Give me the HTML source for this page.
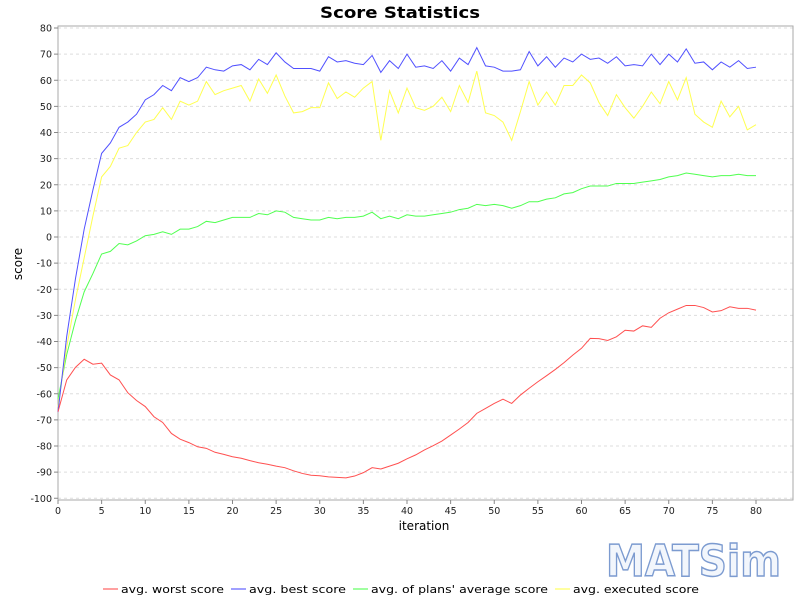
<!DOCTYPE html>
<html><head><meta charset="utf-8"><style>
body{margin:0;background:#fff;font-family:"DejaVu Sans",sans-serif}
svg{display:block}
</style></head><body>
<svg id="chart" width="800" height="600" xmlns="http://www.w3.org/2000/svg" font-family="DejaVu Sans, Liberation Sans, sans-serif">
<rect width="800" height="600" fill="#fff"/>
<text x="400" y="18" text-anchor="middle" font-size="16" font-weight="bold" textLength="160" lengthAdjust="spacingAndGlyphs">Score Statistics</text>
<g id="grid"></g>
<rect x="58" y="26" width="735" height="474" fill="none" stroke="#aaa" stroke-width="1"/>
<g id="yticks"></g>
<g id="xticks"></g>
<g id="series"></g>
<text x="424" y="530" text-anchor="middle" font-size="12">iteration</text>
<text x="22" y="264" text-anchor="middle" font-size="12" transform="rotate(-90 22 264)">score</text>
<text x="606" y="576" font-size="44" font-weight="bold" fill="#f2f6fc" stroke="#7c9bd0" stroke-width="1.5" textLength="175" lengthAdjust="spacingAndGlyphs">MATSim</text>
<g font-size="11">
<g><line x1="103" y1="589" x2="118" y2="589" stroke="#ff4040"/><text x="121" y="593" textLength="103" lengthAdjust="spacingAndGlyphs">avg. worst score</text></g>
<g><line x1="231" y1="589" x2="246" y2="589" stroke="#4040ff"/><text x="249" y="593" textLength="97" lengthAdjust="spacingAndGlyphs">avg. best score</text></g>
<g><line x1="353" y1="589" x2="368" y2="589" stroke="#40ff40"/><text x="371" y="593" textLength="177" lengthAdjust="spacingAndGlyphs">avg. of plans' average score</text></g>
<g><line x1="555" y1="589" x2="570" y2="589" stroke="#ffff40"/><text x="573" y="593" textLength="126" lengthAdjust="spacingAndGlyphs">avg. executed score</text></g>
</g>
</svg>
<script>
const yTickLabels=[80,70,60,50,40,30,20,10,0,-10,-20,-30,-40,-50,-60,-70,-80,-90,-100];
const xTickLabels=[0,5,10,15,20,25,30,35,40,45,50,55,60,65,70,75,80];
const worstScores=[-66.9,-54.7,-49.9,-46.8,-48.7,-48.3,-52.8,-54.7,-59.6,-62.6,-64.9,-68.8,-71,-75.2,-77.4,-78.7,-80.3,-80.9,-82.4,-83.2,-84.1,-84.7,-85.6,-86.4,-87,-87.7,-88.3,-89.5,-90.5,-91.2,-91.4,-91.8,-92,-92.2,-91.5,-90.2,-88.3,-88.8,-87.7,-86.6,-84.9,-83.4,-81.5,-79.9,-78.1,-75.8,-73.5,-71,-67.5,-65.6,-63.7,-62.1,-63.7,-60.5,-57.9,-55.4,-53.1,-50.7,-48.1,-45.2,-42.6,-38.8,-38.9,-39.6,-38.2,-35.7,-36,-34,-34.6,-31.1,-29,-27.6,-26.2,-26.2,-27,-28.7,-28.2,-26.7,-27.3,-27.3,-28];
const bestScores=[-67,-38,-16,3,18,32,36,42,44,47,52.5,54.5,58,56,61,59.5,61,65,64,63.5,65.5,66,64,68,66,70.5,67,64.5,64.5,64.5,63.5,69,67,67.5,66.5,66,69.5,63,67.5,64.5,70,65,65.5,64.5,67.5,63.5,68.5,66,72.5,65.5,65,63.5,63.5,64,71,65.5,69,65,68.5,67,70,68,68.5,66.5,69,65.5,66,65.5,70,66,70,67,72,66.5,67,64,67,65,67.5,64.5,65];
const averageScores=[-62,-45,-32,-21,-14,-6.5,-5.5,-2.5,-3,-1.5,0.5,1,2,1,3,3,4,6,5.5,6.5,7.5,7.5,7.5,9,8.5,10,9.5,7.5,7,6.5,6.5,7.5,7,7.5,7.5,8,9.5,7,8,7,8.5,8,8,8.5,9,9.5,10.5,11,12.5,12,12.5,12,11,12,13.5,13.5,14.5,15,16.5,17,18.5,19.5,19.5,19.5,20.5,20.5,20.5,21,21.5,22,23,23.5,24.5,24,23.5,23,23.5,23.5,24,23.5,23.5];
const executedScores=[-65,-42,-24,-8,8,23,27,34,35,40,44,45,49.5,45,52,50.5,52,59.5,54.5,56,57,58,52,60.5,55,62,54,47.5,48,49.5,49.5,59,53,55.5,53.5,57,59.5,37,56,47.5,57,49.5,48.5,50,53.5,48,58,51.5,63.5,47.5,46.5,44,37,48,59.5,50.5,55.5,50.5,58,58,62,59,51.5,46.5,54.5,49.5,45.5,50,55.5,51,59.5,52.5,61,47,44,42,52,46,50,41,43];

const NS='http://www.w3.org/2000/svg';
const X=v=>58+(v-0)*(756-58)/80;
const Y=v=>237-v*(237-28)/80;
function mk(tag,attrs,parent){const e=document.createElementNS(NS,tag);for(const k in attrs)e.setAttribute(k,attrs[k]);parent.appendChild(e);return e;}
const grid=document.getElementById('grid'),yt=document.getElementById('yticks'),xt=document.getElementById('xticks'),ser=document.getElementById('series');
yTickLabels.forEach(v=>{
  const l=mk('line',{x1:58,x2:793,y1:Y(v),y2:Y(v),stroke:'#ddd','stroke-dasharray':'3,3'},grid);
  
  
  const t=mk('line',{x1:54,x2:58,y1:Y(v),y2:Y(v),stroke:'#888'},yt);
  
  
  const tx=mk('text',{x:52,y:Y(v)+3.5,'text-anchor':'end','font-size':'9.5',fill:'#222'},yt);
  tx.textContent=v;
  
  
});
xTickLabels.forEach(v=>{
  const t=mk('line',{x1:X(v),x2:X(v),y1:500,y2:504,stroke:'#888'},xt);
  
  
  const tx=mk('text',{x:X(v),y:514,'text-anchor':'middle','font-size':'9.5',fill:'#222'},xt);
  tx.textContent=v;
  
  
});
function line(data,color,name){
  const p=mk('polyline',{points:data.map((v,i)=>X(i)+','+Y(v)).join(' '),fill:'none',stroke:color,'stroke-width':1},ser);
  
  
}
line(averageScores,'#50ff50','average-score-line');
line(executedScores,'#ffff50','executed-score-line');
line(bestScores,'#5050ff','best-score-line');
line(worstScores,'#ff5050','worst-score-line');
</script>
</body></html>
